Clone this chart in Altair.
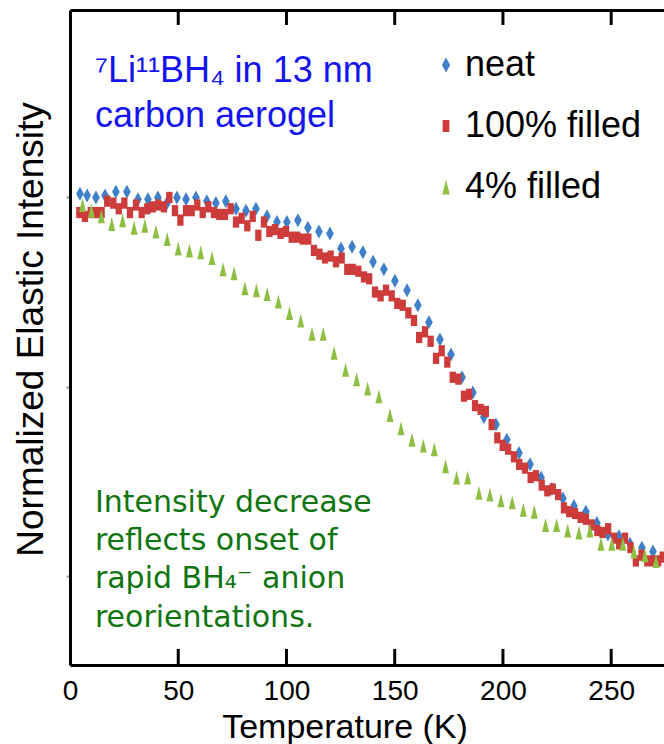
import altair as alt
import pandas as pd

# ---------------- data ----------------
series = ["neat", "100% filled", "4% filled"]
colors = ["#3f80c9", "#cd3b3b", "#8fbf42"]
shapes = [
    "M0,-1L0.55,0L0,1L-0.55,0Z",          # narrow diamond
    "M-0.45,-0.8H0.45V0.8H-0.45Z",        # upright rectangle
    "M0,-1L0.5,1L-0.5,1Z",                # narrow triangle
]

neat_T = [4.6, 7.9, 12.0, 16.2, 21.2, 26.3, 31.4, 36.0, 40.6, 44.8,
          49.4, 53.6, 58.2, 63.2, 67.4, 72.0, 76.7, 81.3, 85.9, 91.0,
          95.6, 100.2, 105.3, 109.9, 115.0, 120.1, 125.2, 130.3, 135.3, 140.0,
          145.0, 150.1, 155.7, 160.7, 165.8, 170.9, 176.0, 181.1, 186.1, 191.2,
          196.8, 201.8, 207.4, 212.5, 217.6, 222.6, 227.7, 232.8, 238.3, 243.4,
          248.5, 253.6, 258.7, 264.2, 269.3]
neat_I = [1.002, 1.001, 1.000, 1.001, 1.003, 1.003, 0.999, 0.999, 1.000, 0.997,
          1.000, 0.999, 1.000, 0.998, 0.997, 0.998, 0.994, 0.993, 0.994, 0.990,
          0.987, 0.987, 0.988, 0.984, 0.982, 0.981, 0.973, 0.974, 0.971, 0.966,
          0.962, 0.956, 0.951, 0.943, 0.934, 0.925, 0.917, 0.905, 0.897, 0.884,
          0.880, 0.872, 0.865, 0.859, 0.852, 0.846, 0.841, 0.837, 0.834, 0.828,
          0.822, 0.821, 0.817, 0.815, 0.813]

full_T = [4.3, 6.9, 9.6, 12.0, 14.6, 17.2, 20.0, 22.5, 25.1, 27.7,
          30.5, 33.1, 35.7, 38.2, 40.8, 43.4, 45.9, 48.5, 51.0, 53.6,
          56.2, 58.8, 61.3, 63.9, 66.5, 69.0, 71.6, 74.2, 76.7, 79.3,
          81.9, 84.4, 87.0, 89.6, 92.1, 94.7, 97.3, 99.8, 102.4, 105.0,
          107.5, 110.1, 112.7, 115.2, 117.8, 120.4, 122.9, 125.5, 128.1, 130.6,
          133.2, 135.8, 138.2, 140.9, 143.5, 146.0, 148.6, 151.2, 153.7, 156.3,
          158.9, 161.3, 164.0, 166.6, 169.1, 171.7, 174.3, 176.8, 179.4, 182.0,
          184.4, 187.1, 189.7, 192.1, 194.8, 197.4, 199.9, 202.4, 205.1, 207.5,
          210.2, 212.8, 215.2, 217.9, 220.5, 223.0, 225.5, 228.2, 230.6, 233.3,
          235.9, 238.3, 241.0, 243.6, 246.0, 248.6, 251.3, 253.7, 256.4, 258.9,
          261.4, 264.0, 266.7, 269.1, 271.7, 273.8]
full_I = [0.992, 0.990, 0.992, 0.992, 0.992, 0.998, 0.997, 0.994, 0.997, 0.992,
          0.996, 0.992, 0.994, 0.995, 0.996, 0.995, 1.000, 0.993, 0.988, 0.993,
          0.993, 0.996, 0.992, 0.995, 0.992, 0.991, 0.991, 0.994, 0.987, 0.989,
          0.985, 0.990, 0.980, 0.987, 0.982, 0.983, 0.981, 0.982, 0.979, 0.979,
          0.978, 0.978, 0.972, 0.970, 0.968, 0.969, 0.966, 0.968, 0.962, 0.962,
          0.961, 0.958, 0.957, 0.950, 0.948, 0.951, 0.948, 0.944, 0.943, 0.939,
          0.935, 0.926, 0.929, 0.924, 0.915, 0.919, 0.913, 0.905, 0.904, 0.895,
          0.896, 0.890, 0.888, 0.887, 0.880, 0.873, 0.869, 0.867, 0.863, 0.859,
          0.857, 0.852, 0.853, 0.848, 0.845, 0.846, 0.843, 0.836, 0.834, 0.833,
          0.831, 0.830, 0.827, 0.824, 0.823, 0.825, 0.820, 0.817, 0.820, 0.815,
          0.808, 0.811, 0.808, 0.808, 0.808, 0.810]

four_T = [5.8, 9.9, 14.5, 19.3, 24.3, 29.6, 34.6, 39.7, 44.9, 50.0,
          55.2, 60.4, 65.6, 70.7, 75.8, 80.8, 86.1, 91.1, 96.3, 101.4,
          106.6, 111.8, 117.0, 122.0, 127.3, 132.4, 137.5, 142.7, 147.8, 152.9,
          158.0, 163.2, 168.3, 173.5, 178.6, 183.7, 188.9, 194.0, 199.1, 204.3,
          209.4, 214.5, 219.7, 224.8, 229.9, 235.1, 240.2, 245.3, 250.3, 255.4,
          260.5, 265.6, 270.7]
four_I = [0.996, 0.993, 0.990, 0.986, 0.988, 0.984, 0.985, 0.982, 0.978, 0.973,
          0.972, 0.971, 0.968, 0.962, 0.960, 0.952, 0.951, 0.949, 0.945, 0.939,
          0.935, 0.928, 0.928, 0.918, 0.909, 0.904, 0.899, 0.895, 0.885, 0.878,
          0.872, 0.869, 0.867, 0.858, 0.852, 0.852, 0.844, 0.843, 0.840, 0.839,
          0.835, 0.834, 0.827, 0.827, 0.824, 0.823, 0.824, 0.817, 0.817, 0.817,
          0.813, 0.811, 0.808]

x_ticks = [0, 50, 100, 150, 200, 250]
x_inner_ticks = [50.0, 100.0, 150.0, 200.0, 250.0]
y_ticks = [0.8, 0.9, 1.0]
x_domain = [0, 274.4]
y_domain = [0.753, 1.099]
# inner tick extents in intensity units (bottom frame up, top frame down)
tick_bottom_span = [0.753, 0.7615]
tick_top_span = [1.0911, 1.099]

blue_lines = ["\u2077Li\u00b9\u00b9BH\u2084 in 13 nm", "carbon aerogel"]
blue_x = [11.5, 11.5]
blue_y = [1.061, 1.037]

green_lines = ["Intensity decrease", "reflects onset of",
               "rapid BH\u2084\u207b anion", "reorientations."]
green_x = [11.5, 11.5, 11.5, 11.5]
green_y = [0.834, 0.8137, 0.7935, 0.7732]

# ---------------- tables ----------------
rows = []
for name, Ts, Is in [(series[0], neat_T, neat_I),
                     (series[1], full_T, full_I),
                     (series[2], four_T, four_I)]:
    for t, v in zip(Ts, Is, strict=True):
        rows.append({"T": t, "I": v, "sample": name})
df = pd.DataFrame(rows)

blue_df = pd.DataFrame({"x": blue_x, "y": blue_y, "label": blue_lines})
green_df = pd.DataFrame({"x": green_x, "y": green_y, "label": green_lines})
tick_rows = []
for t in x_inner_ticks:
    tick_rows.append({"tickT": t, "y0": tick_bottom_span[0], "y1": tick_bottom_span[1]})
    tick_rows.append({"tickT": t, "y0": tick_top_span[0], "y1": tick_top_span[1]})
tick_df = pd.DataFrame(tick_rows)

PLOT_W, PLOT_H = 594, 655
xscale = alt.Scale(domain=x_domain, nice=False, zero=False)
yscale = alt.Scale(domain=y_domain, nice=False, zero=False)

FONT = "Liberation Sans"

bottom_axis = alt.Axis(
    orient="bottom", values=x_ticks, domain=True, domainColor="black",
    domainWidth=3, ticks=False, grid=False,
    labels=True, labelFontSize=28, labelFont=FONT, labelColor="black",
    labelPadding=12, labelFlush=False,
    title="Temperature (K)", titleFontSize=34, titleFont=FONT,
    titleFontWeight="normal", titleColor="black",
    titleX=274.5, titleY=72, titleAlign="center", titleBaseline="alphabetic",
)
top_axis = alt.Axis(
    orient="top", values=x_inner_ticks, domain=True, domainColor="black",
    domainWidth=3, ticks=False, grid=False, labels=False, title=None,
)
left_axis = alt.Axis(
    orient="left", values=y_ticks, domain=True, domainColor="black",
    domainWidth=3, ticks=True, tickSize=4, tickWidth=2, tickColor="#9a9a9a",
    labels=False, grid=False,
    title="Normalized Elastic Intensity", titleFontSize=37, titleFont=FONT,
    titleFontWeight="normal", titleColor="black",
    titleX=-28, titleY=319, titleAngle=270, titleAlign="center",
    titleBaseline="alphabetic",
)

legend = alt.Legend(
    orient="none", legendX=358, legendY=37, title=None,
    labelFontSize=36, labelFont=FONT, labelColor="black", labelLimit=400,
    symbolSize=225, symbolStrokeWidth=0, labelOffset=1, rowPadding=25,
    padding=0,
)

points = alt.Chart(df).mark_point(filled=True, opacity=1, size=196, strokeWidth=0).encode(
    x=alt.X("T:Q", scale=xscale, axis=bottom_axis),
    y=alt.Y("I:Q", scale=yscale, axis=left_axis),
    color=alt.Color("sample:N", scale=alt.Scale(domain=series, range=colors), legend=legend),
    shape=alt.Shape("sample:N", scale=alt.Scale(domain=series, range=shapes), legend=legend),
)

blue_text = alt.Chart(blue_df).mark_text(
    align="left", baseline="alphabetic", font=FONT, fontSize=36, color="#1414f0"
).encode(
    x=alt.X("x:Q", scale=xscale, axis=top_axis),
    y=alt.Y("y:Q", scale=yscale, axis=None),
    text="label:N",
)

green_text = alt.Chart(green_df).mark_text(
    align="left", baseline="alphabetic", font="DejaVu Sans", fontSize=30, color="#107510"
).encode(
    x=alt.X("x:Q", scale=xscale, axis=None),
    y=alt.Y("y:Q", scale=yscale, axis=None),
    text="label:N",
)

# inward-pointing tick marks on the bottom and top frame, placed through the scales
inner_ticks = alt.Chart(tick_df).mark_rule(color="black", strokeWidth=3, opacity=1).encode(
    x=alt.X("tickT:Q", scale=xscale, axis=None),
    y=alt.Y("y0:Q", scale=yscale, axis=None),
    y2="y1:Q",
)

chart = alt.layer(points, blue_text, green_text, inner_ticks).resolve_axis(
    x="independent", y="independent"
).properties(
    width=PLOT_W, height=PLOT_H,
    padding={"left": 70, "top": 10, "right": 0, "bottom": 79},
    autosize=alt.AutoSizeParams(type="none"),
    background="white",
).configure_view(strokeWidth=0)

chart.save("out.html", embed_options={"renderer": "svg", "actions": False})
